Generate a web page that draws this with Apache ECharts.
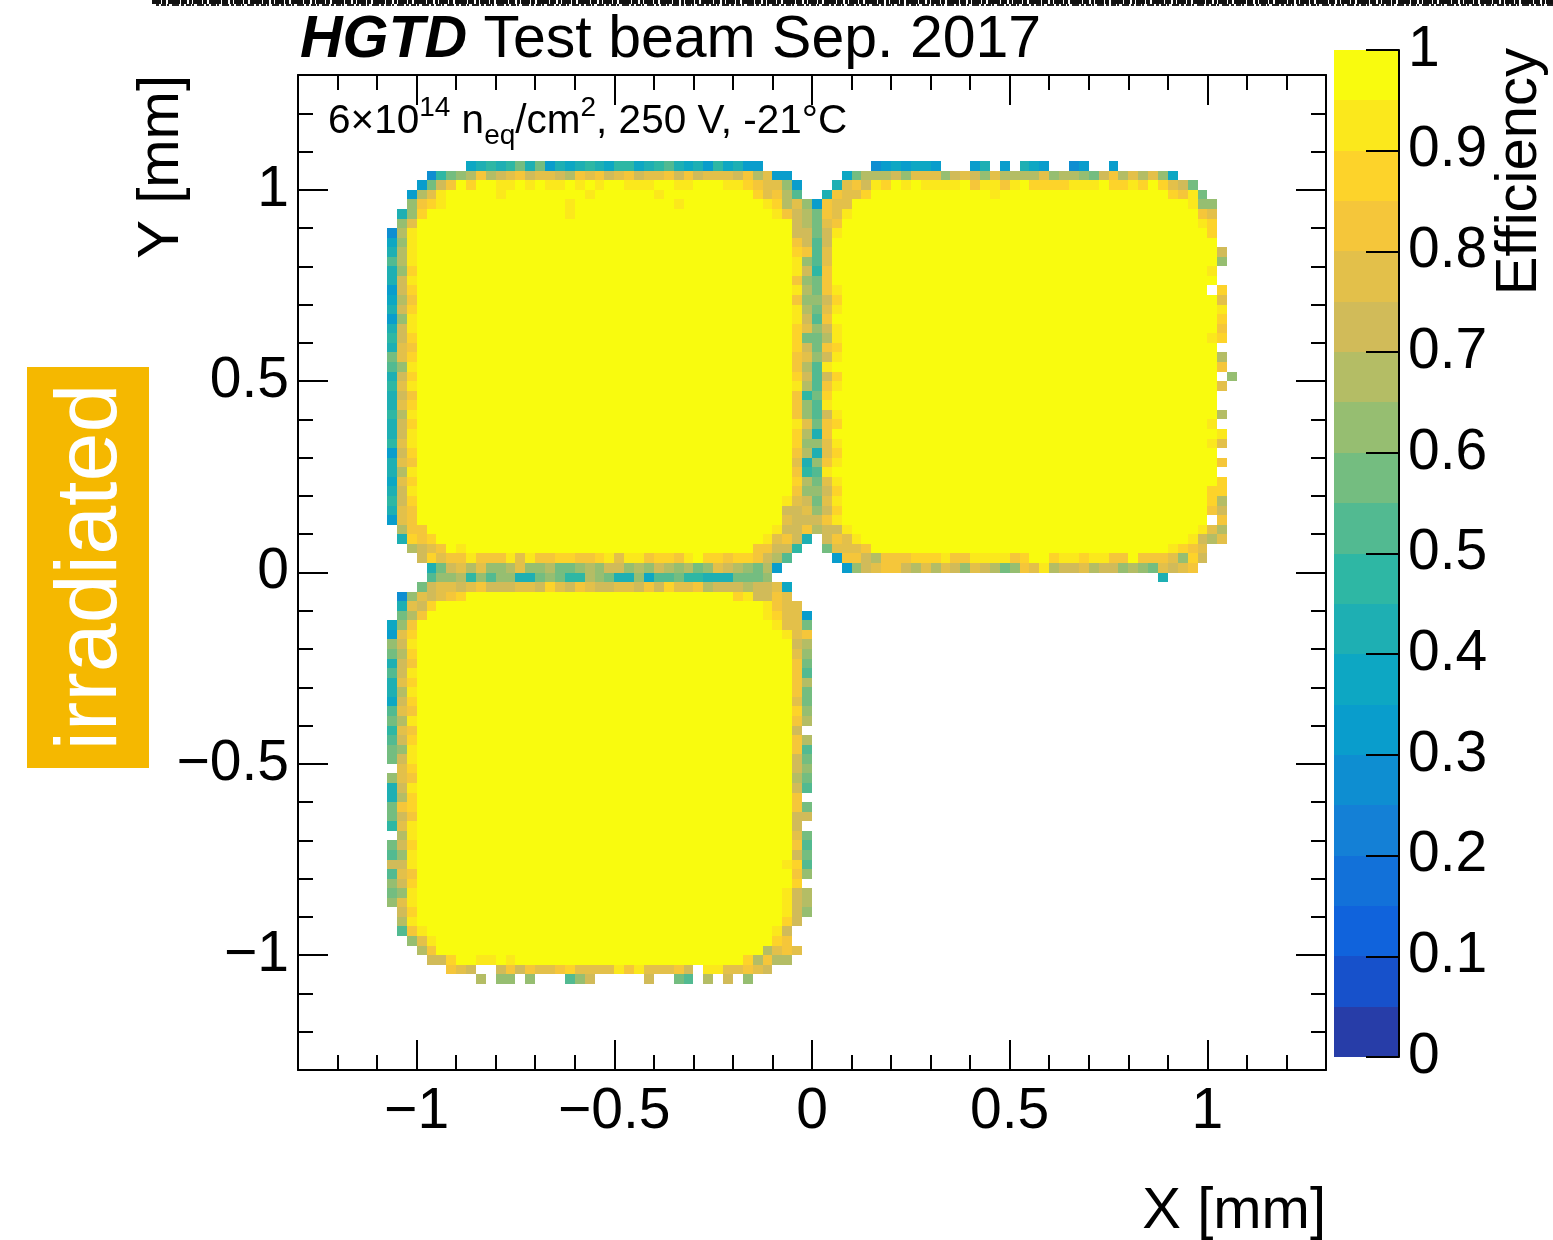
<!DOCTYPE html>
<html>
<head>
<meta charset="utf-8">
<script src="https://cdn.jsdelivr.net/npm/echarts@6/dist/echarts.min.js"></script>
<style>
  html, body { margin: 0; padding: 0; background: #ffffff; }
  #chart { width: 1553px; height: 1240px; }
</style>
</head>
<body>
<div id="chart"></div>
<script>
// Efficiency map of three LGAD pads, 0.025 mm bins.
const BIN = 0.025;
// One letter per efficiency band of 0.05 (a: 0-0.05 ... t: 0.95-1).
// In the row strings: '.' = empty bin, a number = that many bins at full efficiency,
// spaces are only for readability.
const LEVEL_CODES = 'abcdefghijklmnopqrst';

const xMajorTicks = [-1, -0.5, 0, 0.5, 1];
const yMajorTicks = [-1, -0.5, 0, 0.5, 1];

// Top-left pad: first bin column -43, rows from bin 42 downwards (bin 0 = [0, 0.025))
const topLeftOrigin = [-43, 42];
const topLeftRows = [
  '........ hijijlilgi hijihjjhij kihigjhigg',
  '.... fjlmnqnopq opponqpqop qoppqoqopp poqnpgg',
  '... gloqtrttss tstsststst tsssttsstt tssrqppmg',
  '..gnps 5 s 8 s 6 s 9 rpqnk',
  '..mqr s 12 s 10 s 8 srnpmg',
  '.imr 14 s 20 sqonl',
  '.mp 38 onl',
  'fns 38 ool',
  'hms 38 qok',
  'ins 38 rqk',
  'kns 38 smk',
  'imr 38 soj',
  'ios 38 qml',
  'gor 38 snl',
  'hnq 38 qmm',
  'ior 38 snl',
  'gms 38 sok',
  'ios 38 rpm',
  'jor 38 rll',
  'ipq 38 rol',
  'lpr 38 qpm',
  'kms 38 qnk',
  'ior 38 rok',
  'jps 38 snk',
  'ioq 38 qjl',
  'ipr 38 qmk',
  'jns 38 qmk',
  'ior 38 spl',
  'ios 38 rni',
  'jps 38 rmm',
  'gor 38 qni',
  'ipq 38 pim',
  'ins 38 qjk',
  'hpr 38 rnl',
  'ios 38 qmm',
  'jor 37 spol',
  'ipq 37 oopm',
  'gpq 37 pooo',
  '.nqq 35 sooqn',
  '.irqr 33 spqoi',
  '..nopqts 29 qqooj',
  '... orpqqsqqqs psqqrrqqrs pssqrrqstr rqrrqo nk',
  '.... ilopnpmmnp mmnllmnmoo mnmonmnlmp onmlng'
];

// Top-right pad: first bin column 1, rows from bin 42 downwards
const topRightOrigin = [1, 42];
const topRightRows = [
  '..... fghghhg ... gi.g.ihg..fg..g',
  '.. hlnnnompppmopompnnnnpmnnmloqnpnpmh',
  '. ipqosrtsts ssstqssqst rrrrssstrr srtrpol',
  'iqppr 12 s 17 rqsl',
  'qpp 34 smm',
  'qps 35 qp',
  'pq 36 sr',
  'os 37 r',
  'ot 37 t',
  'pt 37 to',
  'pt 37 tm',
  'qt 37 s',
  'qt 37 t',
  'qs 37 .r',
  'or 37 tp',
  'ps 37 ts',
  'qt 37 tr',
  'os 37 tq',
  'ns 37 sr',
  'qr 37 t',
  'os 37 tn',
  'st 37 tq',
  'or 37 t.m',
  'qs 37 tp',
  'rt 37 t',
  'st 37 t',
  'os 37 tn',
  'qr 37 s',
  'qt 37 ts',
  'ps 37 sp',
  'pr 37 t',
  'qs 37 tq',
  'st 37 t',
  'ps 37 tr',
  'or 37 rr',
  'ps 37 rn',
  'or 37 qo',
  'qs 37 .q',
  'oos 35 spn',
  'oqps 33 sonp',
  'lpppq 30 s rqp',
  '. gqqonqqqrr rsqqssssqr ttrssrssqq tqqqpmro',
  '.. gmopqqonpn pomponlmqp snoopnoomn mlpopq',
  '.......... .......... .......... .... i'
];

// Bottom-left pad: first bin column -43, rows from bin -1 downwards
const bottomLeftOrigin = [-43, -1];
const bottomLeftRows = [
  '.... kmmnjmkmmi ilmljjnmli imhkkljjii illlm',
  '... loppopqooo pporpoqpoo ppoqorppqn ooonooph',
  '.fmpopqr 27 rsooqp',
  '.ipor 33 sqpp',
  '.lnq 34 srppg',
  'hmq 36 sppl',
  'gpr 37 spq',
  'mos 38 on',
  'lnr 38 pm',
  'ioq 38 ql',
  'kos 38 qk',
  'ipr 38 qn',
  'ins 38 ql',
  'hor 38 pl',
  'kpq 38 rm',
  'lns 38 qn',
  'jpq 38 o',
  'kor 38 qn',
  'lms 38 qk',
  'los 38 ol',
  '.pr 38 om',
  'mpq 38 nl',
  'ios 38 ok',
  'inr 38 q',
  'lqr 38 ql',
  'loq 38 oo',
  'jps 38 o',
  '.ns 38 pl',
  'lor 38 qk',
  'kms 38 ol',
  'oos 37 srk',
  'kpq 38 qm',
  'mor 38 r',
  'lms 37 son',
  'mps 37 son',
  '.or 37 som',
  '.ns 37 ro',
  '.kqs 35 so',
  '..mps 34 rq',
  '...nq 33 npqp',
  '....oorttssts 23 rnqnn',
  '...... qpo..oqoqp pqrppppsqs pppqo.sspp qpo',
  '......... n.mm.m...kmo.....o..lk.n.o.m'
];

// ---------------------------------------------------------------------------

const fontFamily = '"Liberation Sans", Arial, Helvetica, sans-serif';

function levelValue(code) {
  return (LEVEL_CODES.indexOf(code) + 0.5) / LEVEL_CODES.length;
}

// Expand the row strings into [x, y, efficiency] bin centres.
function decodePad(rows, origin) {
  const cells = [];
  rows.forEach((row, i) => {
    const r = origin[1] - i;
    let c = origin[0];
    let run = '';
    const push = (code) => {
      cells.push([(c + 0.5) * BIN, (r + 0.5) * BIN, levelValue(code)]);
      c++;
    };
    const flush = () => {
      if (run) {
        for (let n = parseInt(run, 10); n > 0; n--) push('t');
        run = '';
      }
    };
    for (const ch of row) {
      if (ch >= '0' && ch <= '9') { run += ch; continue; }
      flush();
      if (ch === ' ') continue;
      if (ch === '.') { c++; continue; }
      push(ch);
    }
    flush();
  });
  return cells;
}

const efficiencyCells = []
  .concat(decodePad(topLeftRows, topLeftOrigin))
  .concat(decodePad(topRightRows, topRightOrigin))
  .concat(decodePad(bottomLeftRows, bottomLeftOrigin));

// ROOT "bird" palette, sampled the way a 20-contour COLZ plot picks its colours
const birdStops = [0, 0.125, 0.25, 0.375, 0.5, 0.625, 0.75, 0.875, 1];
const birdR = [0.2082, 0.0592, 0.0780, 0.0232, 0.1802, 0.5301, 0.8186, 0.9956, 0.9764];
const birdG = [0.1664, 0.3599, 0.5041, 0.6419, 0.7178, 0.7492, 0.7328, 0.7862, 0.9832];
const birdB = [0.5293, 0.8684, 0.8385, 0.7914, 0.6425, 0.4662, 0.3499, 0.1968, 0.0539];
function birdColor(t) {
  let s = 0;
  while (s < birdStops.length - 2 && t > birdStops[s + 1]) s++;
  const f = (t - birdStops[s]) / (birdStops[s + 1] - birdStops[s]);
  const mix = (arr) => Math.round(255 * (arr[s] + (arr[s + 1] - arr[s]) * f));
  return 'rgb(' + mix(birdR) + ',' + mix(birdG) + ',' + mix(birdB) + ')';
}
const nBands = LEVEL_CODES.length;
const bandColors = [];
for (let k = 0; k < nBands; k++) {
  const idx = Math.floor((k + 0.99) * 255 / nBands);
  bandColors.push(birdColor(Math.min(1, idx / 254)));
}
const bandPieces = bandColors.map((color, k) => {
  const piece = { gte: k / nBands, color: color };
  if (k === nBands - 1) piece.lte = 1; else piece.lt = (k + 1) / nBands;
  return piece;
});
const colorBarBands = bandColors.map((c, k) => [k / nBands, (k + 1) / nBands, (k + 0.5) / nBands]);

const xMinorTicks = [];
const yMinorTicks = [];
for (let k = -12; k <= 12; k++) { xMinorTicks.push(k / 10); yMinorTicks.push(k / 10); }

function signed(v) {
  return v < 0 ? '\u2212' + String(-v) : String(v);
}

const black = '#000000';
const frameLine = { show: true, onZero: false, lineStyle: { color: black, width: 2 } };
const noLine = { show: false, onZero: false };
const tick = (len, values) => ({
  show: true, inside: true, length: len, customValues: values,
  lineStyle: { color: black, width: 2 }
});
const labelStyle = { color: black, fontSize: 57, fontFamily: fontFamily };

function mainAxis(position, line, len, ticks, labels, margin) {
  return {
    gridIndex: 0, type: 'value', min: -1.3, max: 1.3, position: position, z: 5,
    axisLine: line ? frameLine : noLine,
    axisTick: tick(len, ticks),
    axisLabel: labels
      ? Object.assign({ show: true, customValues: labels, formatter: signed, margin: margin }, labelStyle)
      : { show: false },
    splitLine: { show: false }
  };
}

const chart = echarts.init(document.getElementById('chart'), null, { renderer: 'canvas' });

chart.setOption({
  animation: false,
  backgroundColor: '#ffffff',
  grid: [
    { left: 298, top: 75, width: 1028, height: 995, outerBoundsMode: 'none', containLabel: false },
    { left: 1334, top: 50, width: 65, height: 1007, outerBoundsMode: 'none', containLabel: false }
  ],
  xAxis: [
    mainAxis('bottom', true, 30, xMajorTicks, xMajorTicks, 14),
    mainAxis('bottom', false, 15, xMinorTicks, null),
    mainAxis('top', true, 30, xMajorTicks, null),
    mainAxis('top', false, 15, xMinorTicks, null),
    { gridIndex: 1, type: 'value', min: 0, max: 1, show: false }
  ],
  yAxis: [
    mainAxis('left', true, 30, yMajorTicks, yMajorTicks, 9),
    mainAxis('left', false, 15, yMinorTicks, null),
    mainAxis('right', true, 30, yMajorTicks, null),
    mainAxis('right', false, 15, yMinorTicks, null),
    {
      gridIndex: 1, type: 'value', min: 0, max: 1, interval: 0.1, position: 'right', z: 5,
      axisLine: frameLine,
      axisTick: { show: true, inside: true, length: 33, lineStyle: { color: black, width: 2 } },
      axisLabel: Object.assign({
        show: true, margin: 9,
        formatter: (v) => String(Math.round(v * 10) / 10)
      }, labelStyle),
      splitLine: { show: false }
    }
  ],
  visualMap: {
    type: 'piecewise', show: false, seriesIndex: [0, 1], dimension: 2,
    pieces: bandPieces
  },
  series: [
    {
      name: 'Efficiency',
      type: 'custom',
      coordinateSystem: 'cartesian2d',
      xAxisIndex: 0, yAxisIndex: 0,
      silent: true,
      encode: { x: 0, y: 1 },
      data: efficiencyCells,
      renderItem: function (params, api) {
        const x = api.value(0), y = api.value(1);
        const p0 = api.coord([x - BIN / 2, y + BIN / 2]);
        const p1 = api.coord([x + BIN / 2, y - BIN / 2]);
        const x0 = Math.round(p0[0]), y0 = Math.round(p0[1]);
        const x1 = Math.round(p1[0]), y1 = Math.round(p1[1]);
        return {
          type: 'rect',
          shape: { x: x0, y: y0, width: x1 - x0, height: y1 - y0 },
          style: { fill: api.visual('color') }
        };
      }
    },
    {
      name: 'palette',
      type: 'custom',
      coordinateSystem: 'cartesian2d',
      xAxisIndex: 4, yAxisIndex: 4,
      silent: true,
      z: 1,
      data: colorBarBands,
      renderItem: function (params, api) {
        const p0 = api.coord([0, api.value(1)]);
        const p1 = api.coord([1, api.value(0)]);
        const x0 = Math.round(p0[0]), y0 = Math.round(p0[1]);
        const x1 = Math.round(p1[0]), y1 = Math.round(p1[1]);
        return {
          type: 'rect',
          shape: { x: x0, y: y0, width: x1 - x0, height: y1 - y0 },
          style: { fill: api.visual('color') }
        };
      }
    }
  ],
  graphic: [
    // ragged printed edge along the top
    {
      type: 'line', silent: true,
      shape: { x1: 152, y1: 2, x2: 1553, y2: 2 },
      style: { stroke: '#111111', lineWidth: 4, lineDash: [9, 1, 4, 2, 12, 1, 6, 2, 3, 1] }
    },
    {
      type: 'line', silent: true,
      shape: { x1: 156, y1: 5, x2: 1553, y2: 5 },
      style: { stroke: '#222222', lineWidth: 2, lineDash: [3, 2, 5, 1, 2, 3, 7, 2] }
    },
    {
      type: 'text', x: 300, y: 41, silent: true,
      style: {
        text: '{b|HGTD} Test beam Sep. 2017',
        fontSize: 59, fontFamily: fontFamily, fill: black,
        verticalAlign: 'middle', align: 'left',
        rich: { b: { fontSize: 59, fontFamily: fontFamily, fontWeight: 'bold', fontStyle: 'italic', fill: black } }
      }
    },
    {
      type: 'text', x: 328, y: 122, silent: true,
      style: {
        text: '6\u00d710{sup|14} n{sub|eq}/cm{sup|2}, 250 V, -21\u00b0C',
        fontSize: 40.5, lineHeight: 56, fontFamily: fontFamily, fill: black,
        verticalAlign: 'middle', align: 'left',
        rich: {
          sup: { fontSize: 28, lineHeight: 28, verticalAlign: 'top', fontFamily: fontFamily, fill: black },
          sub: { fontSize: 28, lineHeight: 28, verticalAlign: 'bottom', fontFamily: fontFamily, fill: black }
        }
      }
    },
    {
      type: 'text', x: 1326, y: 1212, silent: true,
      style: { text: 'X [mm]', fontSize: 58, fontFamily: fontFamily, fill: black, align: 'right', verticalAlign: 'middle' }
    },
    {
      type: 'text', x: 162, y: 75, rotation: Math.PI / 2, silent: true,
      style: { text: 'Y [mm]', fontSize: 58, fontFamily: fontFamily, fill: black, align: 'right', verticalAlign: 'middle' }
    },
    {
      type: 'text', x: 1520, y: 48, rotation: Math.PI / 2, silent: true,
      style: { text: 'Efficiency', fontSize: 58, fontFamily: fontFamily, fill: black, align: 'right', verticalAlign: 'middle' }
    },
    {
      type: 'rect', silent: true,
      shape: { x: 27, y: 367, width: 122, height: 401 },
      style: { fill: '#f5b800' }
    },
    {
      type: 'text', x: 92, y: 567, rotation: Math.PI / 2, silent: true,
      style: { text: 'irradiated', fontSize: 88, fontFamily: fontFamily, fill: '#ffffff', align: 'center', verticalAlign: 'middle' }
    }
  ]
});
</script>
</body>
</html>
